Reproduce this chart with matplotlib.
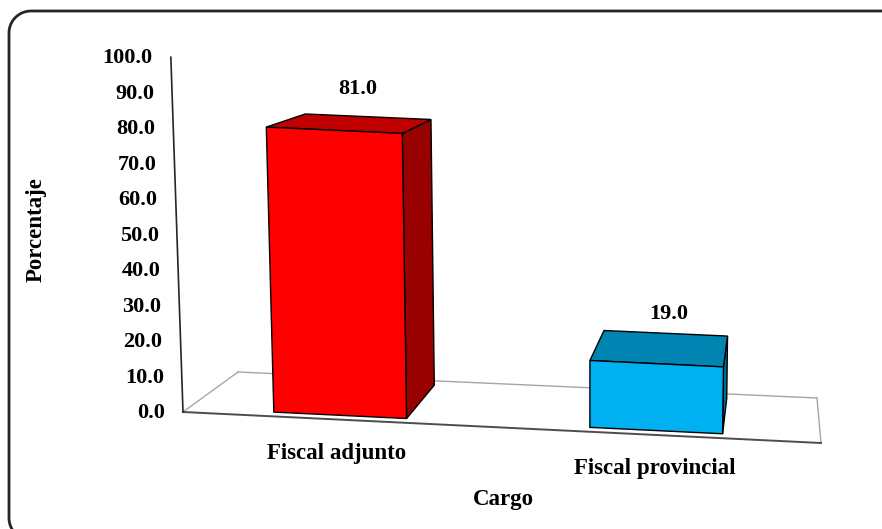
import numpy as np
import matplotlib
matplotlib.use("Agg")
import matplotlib.pyplot as plt
from matplotlib.patches import Polygon

# data
categorias = ["Fiscal adjunto", "Fiscal provincial"]
porcentajes = [81.0, 19.0]
ticks = [0, 10, 20, 30, 40, 50, 60, 70, 80, 90, 100]

frente = ["#FF0000", "#00B0F0"]
techo = ["#C00000", "#0085B3"]
lado = ["#990000", "#006F94"]

plt.rcParams["font.family"] = ["Liberation Serif", "DejaVu Serif"]
plt.rcParams["font.weight"] = "bold"
fs = 16.5

fig = plt.figure(figsize=(8.82, 5.29), dpi=100)
ax = fig.add_axes([0, 0, 1, 1])
ax.set_xlim(0, 882)
ax.set_ylim(529, 0)
ax.axis("off")

# floor of the 3d plot (screen space corners) and simple perspective
FL = np.array([183.0, 412.0])
FR = np.array([821.0, 443.0])
BL = np.array([238.0, 372.0])
BR = np.array([817.0, 398.0])
V = np.array([580.0, 12000.0])   # vanishing point of vertical edges
cat_lo, cat_hi = -0.48, 1.52


def floor(u, w):
    front = FL + (FR - FL) * u
    back = BL + (BR - BL) * u
    return front + (back - front) * w


def proj(x, w, h):
    u = (x - cat_lo) / (cat_hi - cat_lo)
    b = floor(u, w)
    d = (b - V) / np.linalg.norm(b - V)
    return b + d * h * (3.55 - 0.30 * w)


# floor outline
for p, q, c, lw in [(FL, BL, "#A6A6A6", 1.0), (BL, BR, "#A6A6A6", 1.0),
                    (BR, FR, "#A6A6A6", 1.0), (FL, FR, "#4D4D4D", 1.4)]:
    ax.plot([p[0], q[0]], [p[1], q[1]], color=c, lw=lw, zorder=1)

# value axis
a0 = proj(cat_lo, 0, 0)
a1 = proj(cat_lo, 0, 100)
ax.plot([a0[0], a1[0]], [a0[1], a1[1]], color="#262626", lw=1.2, zorder=1)
for t in ticks:
    p = proj(cat_lo, 0, t)
    ax.text(p[0] - 18, p[1] + 1, "%.1f" % t, ha="right", va="center",
            fontsize=fs - 0.5, fontweight="bold")

# bars
ancho = 0.42
w0, w1 = 0.1, 0.9
for i, (cat, val) in enumerate(zip(categorias, porcentajes)):
    x0, x1 = i - ancho / 2, i + ancho / 2
    fbl, fbr = proj(x0, w0, 0), proj(x1, w0, 0)
    ftl, ftr = proj(x0, w0, val), proj(x1, w0, val)
    bbr = proj(x1, w1, 0)
    btl, btr = proj(x0, w1, val), proj(x1, w1, val)
    ax.add_patch(Polygon([fbr, bbr, btr, ftr], closed=True, fc=lado[i],
                         ec="black", lw=1.0, zorder=2 + i))
    ax.add_patch(Polygon([ftl, ftr, btr, btl], closed=True, fc=techo[i],
                         ec="black", lw=1.0, zorder=2 + i))
    ax.add_patch(Polygon([fbl, fbr, ftr, ftl], closed=True, fc=frente[i],
                         ec="black", lw=1.0, zorder=2 + i))

    pl = proj(i, 0.5, val + 10)
    ax.text(pl[0] + 7, pl[1], "%.1f" % val, ha="center", va="center",
            fontsize=fs - 0.5, fontweight="bold", zorder=5)

    pc = proj(i, 0, 0)
    ax.text(pc[0], pc[1] + 34, cat, ha="center", va="center",
            fontsize=fs, fontweight="bold")

ax.text(36, 230, "Porcentaje", rotation=90, ha="center", va="center",
        fontsize=fs, fontweight="bold")
ax.text(503, 500, "Cargo", ha="center", va="center",
        fontsize=fs, fontweight="bold")

# chart area border: rounded left corners, runs off the right and bottom
r = 22
left, top, bottom = 9, 11, 540
t1 = np.linspace(np.pi, 1.5 * np.pi, 20)
t2 = np.linspace(0.5 * np.pi, np.pi, 20)
bx = np.concatenate([[left + r + 2], left + r + r * np.cos(t2),
                     left + r + r * np.cos(t1), [900]])
by = np.concatenate([[bottom], bottom - r + r * np.sin(t2),
                     top + r + r * np.sin(t1), [top]])
ax.plot(bx, by, color="#262626", lw=2.0, zorder=0, clip_on=True,
        solid_capstyle="butt")

fig.savefig("out.png", dpi=100)
